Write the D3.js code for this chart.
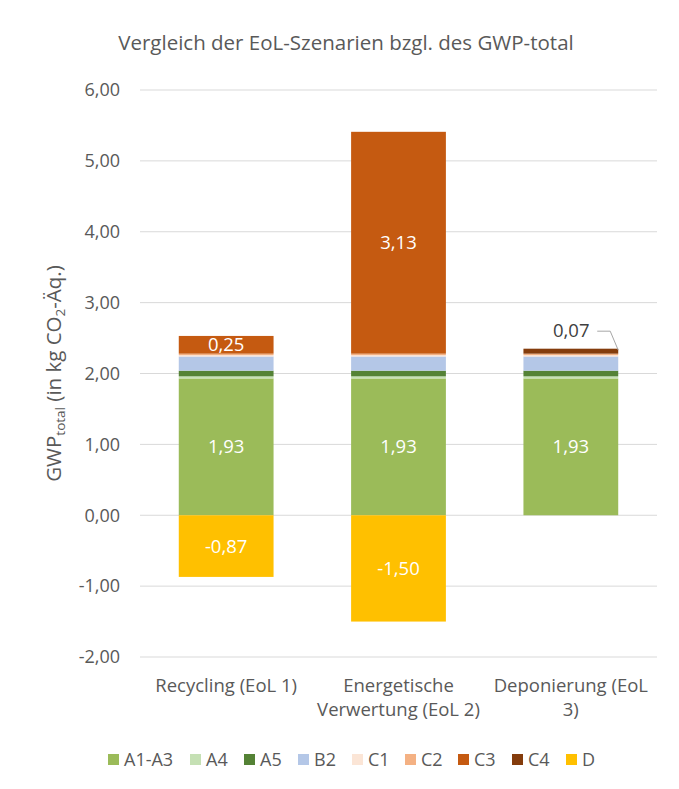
<!DOCTYPE html>
<html>
<head>
<meta charset="utf-8">
<script src="https://cdn.jsdelivr.net/npm/d3@7"></script>
<style>
  body { margin: 0; background: #fff; }
  text { font-family: "Open Sans", "Noto Sans", sans-serif; fill: #595959; }
</style>
</head>
<body>
<div id="chart"></div>
<script>
// data
var scenarios = ["Recycling (EoL 1)", "Energetische Verwertung (EoL 2)", "Deponierung (EoL 3)"];
var scenarioLines = [["Recycling (EoL 1)"], ["Energetische", "Verwertung (EoL 2)"], ["Deponierung (EoL", "3)"]];
var modules = ["A1-A3", "A4", "A5", "B2", "C1", "C2", "C3", "C4", "D"];
var colors = ["#9BBB59", "#C5E0B4", "#548235", "#B4C7E7", "#FBE5D6", "#F4B183", "#C55A11", "#843C0C", "#FFC000"];
var valA1A3 = [1.93, 1.93, 1.93];
var valA4 = [0.03, 0.03, 0.03];
var valA5 = [0.08, 0.08, 0.08];
var valB2 = [0.20, 0.20, 0.20];
var valC1 = [0.02, 0.02, 0.02];
var valC2 = [0.02, 0.02, 0.02];
var valC3 = [0.25, 3.13, 0];
var valC4 = [0, 0, 0.07];
var valD = [-0.87, -1.50, 0];
var yTicks = [-2, -1, 0, 1, 2, 3, 4, 5, 6];

var series = [valA1A3, valA4, valA5, valB2, valC1, valC2, valC3, valC4, valD];
// which segments carry a label inside the bar
var labelled = { "A1-A3": [0, 1, 2], "C3": [0, 1], "D": [0, 1] };

var W = 679, H = 789;
var margin = { left: 140, right: 22, top: 90, bottom: 132 };
var width = W - margin.left - margin.right,
    height = H - margin.top - margin.bottom;

var svg = d3.select("#chart").append("svg")
    .attr("width", W).attr("height", H);

var g = svg.append("g")
    .attr("transform", "translate(" + margin.left + "," + margin.top + ")");

var x = d3.scaleBand().domain(scenarios).range([0, width]).paddingInner(0.45).paddingOuter(0.225);
var y = d3.scaleLinear().domain([-2, 6]).range([height, 0]);

var fmt = function(v) { return v.toFixed(2).replace(".", ","); };

// gridlines
g.selectAll(".grid").data(yTicks).enter().append("line")
    .attr("x1", 0).attr("x2", width)
    .attr("y1", function(d) { return y(d); }).attr("y2", function(d) { return y(d); })
    .attr("stroke", "#d9d9d9").attr("stroke-width", 1);

// y axis labels
var yAxis = g.append("g").call(d3.axisLeft(y).tickValues(yTicks).tickFormat(fmt).tickSize(0).tickPadding(20));
yAxis.select(".domain").remove();
yAxis.selectAll("text").style("font-size", "18px").attr("fill", "#595959");

// stacking (positive up from 0, negative down from 0)
var segs = [];
scenarios.forEach(function(s, i) {
    var pos = 0, neg = 0;
    series.forEach(function(vals, k) {
        var v = vals[i];
        if (v === 0) return;
        var y0, y1;
        if (v > 0) { y0 = pos; y1 = pos + v; pos = y1; }
        else { y0 = neg; y1 = neg + v; neg = y1; }
        segs.push({ cat: s, idx: i, mod: modules[k], color: colors[k], v: v, y0: y0, y1: y1 });
    });
});

g.selectAll(".seg").data(segs).enter().append("rect")
    .attr("x", function(d) { return x(d.cat); })
    .attr("width", x.bandwidth())
    .attr("y", function(d) { return y(Math.max(d.y0, d.y1)); })
    .attr("height", function(d) { return Math.abs(y(d.y0) - y(d.y1)); })
    .attr("fill", function(d) { return d.color; });

// data labels, centred in their segment
g.selectAll(".lbl").data(segs.filter(function(d) {
        return labelled[d.mod] && labelled[d.mod].indexOf(d.idx) >= 0;
    })).enter().append("text")
    .attr("x", function(d) { return x(d.cat) + x.bandwidth() / 2; })
    .attr("y", function(d) { return y((d.y0 + d.y1) / 2) + 6.5; })
    .attr("text-anchor", "middle")
    .style("font-size", "18.5px")
    .style("fill", "#fff")
    .text(function(d) { return fmt(d.v); });

// callout label for C4 of the third bar
var c4 = segs.filter(function(d) { return d.mod === "C4"; })[0];
var cx = x(c4.cat) + x.bandwidth(), cy = y((c4.y0 + c4.y1) / 2);
g.append("polyline")
    .attr("points", [[cx - 21, cy - 20], [cx - 8, cy - 20], [cx, cy - 1]].map(function(p) { return p.join(","); }).join(" "))
    .attr("fill", "none").attr("stroke", "#a6a6a6").attr("stroke-width", 1);
g.append("text")
    .attr("x", cx - 47).attr("y", cy - 14)
    .attr("text-anchor", "middle")
    .style("font-size", "18.5px").style("fill", "#404040")
    .text(fmt(c4.v));

// category labels
scenarios.forEach(function(s, i) {
    var t = g.append("text")
        .attr("x", x(s) + x.bandwidth() / 2)
        .attr("y", height + 35)
        .attr("text-anchor", "middle")
        .style("font-size", "18.5px");
    scenarioLines[i].forEach(function(line, j) {
        t.append("tspan").attr("x", x(s) + x.bandwidth() / 2).attr("dy", j === 0 ? 0 : 24).text(line);
    });
});

// title
svg.append("text")
    .attr("x", 346).attr("y", 50)
    .attr("text-anchor", "middle")
    .style("font-size", "20.5px")
    .text("Vergleich der EoL-Szenarien bzgl. des GWP-total");

// y axis title with subscripts
var yt = svg.append("text")
    .attr("transform", "translate(61," + (margin.top + y(2)) + ") rotate(-90)")
    .attr("text-anchor", "middle")
    .style("font-size", "20.5px");
yt.append("tspan").text("GWP");
yt.append("tspan").attr("dy", 4).style("font-size", "13.5px").text("total");
yt.append("tspan").attr("dy", -4).text(" (in kg CO");
yt.append("tspan").attr("dy", 4).style("font-size", "13.5px").text("2");
yt.append("tspan").attr("dy", -4).text("-Äq.)");

// legend, centred under the chart
var legX = [108, 190, 244, 298, 352, 405, 458, 512, 566];
var leg = svg.append("g");
modules.forEach(function(m, i) {
    leg.append("rect").attr("x", legX[i]).attr("y", 754).attr("width", 11).attr("height", 11).attr("fill", colors[i]);
    leg.append("text").attr("x", legX[i] + 16).attr("y", 766).style("font-size", "18px").text(m);
});
</script>
</body>
</html>
